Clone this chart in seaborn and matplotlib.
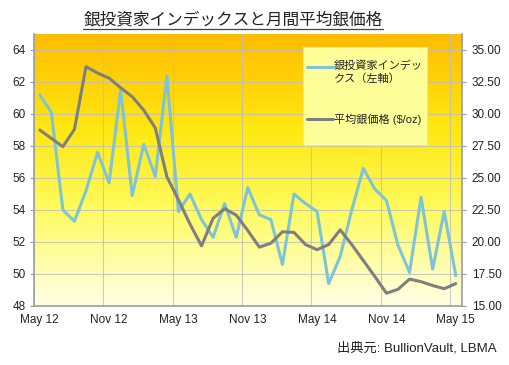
import numpy as np
import pandas as pd
import matplotlib
matplotlib.use("Agg")
import matplotlib.pyplot as plt
from matplotlib.colors import LinearSegmentedColormap
from matplotlib.lines import Line2D
from matplotlib.patches import Rectangle
import seaborn as sns

# ---- data (May 2012 .. May 2015, monthly) ----
index_values = [61.2, 60.1, 54.0, 53.3, 55.2, 57.6, 55.7, 61.5, 54.9, 58.1,
                56.1, 62.4, 53.9, 55.0, 53.4, 52.3, 54.4, 52.3, 55.4, 53.7,
                53.4, 50.6, 55.0, 54.4, 53.9, 49.4, 51.1, 54.0, 56.6, 55.3,
                54.6, 51.8, 50.1, 54.8, 50.3, 53.9, 49.9]
silver_price = [28.75, 28.1, 27.45, 28.8, 33.7, 33.2, 32.8, 32.05, 31.35, 30.3,
                28.9, 25.1, 23.3, 21.4, 19.7, 21.85, 22.6, 22.1, 20.9, 19.6,
                19.9, 20.8, 20.75, 19.8, 19.4, 19.8, 20.95, 19.8, 18.55, 17.3,
                16.0, 16.3, 17.1, 16.9, 16.6, 16.35, 16.75]
tick_labels = ["May 12", "Nov 12", "May 13", "Nov 13", "May 14", "Nov 14", "May 15"]
left_ticks = [48, 50, 52, 54, 56, 58, 60, 62, 64]
right_ticks = [15.0, 17.5, 20.0, 22.5, 25.0, 27.5, 30.0, 32.5, 35.0]
label_index = "銀投資家インデッ\nクス（左軸）"
label_price = "平均銀価格 ($/oz)"
title = "銀投資家インデックスと月間平均銀価格"
source = "出典元: BullionVault, LBMA"

month = np.arange(len(index_values)) + 0.5
df = pd.DataFrame({"month": month, "index": index_values, "price": silver_price})

sns.set_theme(style="white")
plt.rcParams["font.family"] = ["Liberation Sans", "Noto Sans CJK JP", "DejaVu Sans"]

W, H = 510, 365
fig = plt.figure(figsize=(W / 100, H / 100), dpi=100)
fig.patch.set_facecolor("white")
L, R, T, B = 34, 462, 34, 306
ax = fig.add_axes([L / W, 1 - B / H, (R - L) / W, (B - T) / H])

# gradient background
cmap = LinearSegmentedColormap.from_list(
    "bg", [(0.0, "#FFFFE6"), (0.35, "#FFFB60"), (0.65, "#FFE812"), (1.0, "#FFBC00")])
grad = np.linspace(0, 1, 256).reshape(-1, 1)
ax.imshow(grad, aspect="auto", cmap=cmap, origin="lower",
          extent=[0, 1, 0, 1], transform=ax.transAxes, zorder=0)

blue = "#7EC4D6"
grey = "#7F7F7F"

sns.lineplot(data=df, x="month", y="index", ax=ax, color=blue, linewidth=2.2,
             legend=False, zorder=3)
ax.set_xlim(0, 37.04)
ax.set_ylim(48, 65)
ax.set_yticks(left_ticks)
ax.set_yticklabels([str(v) for v in left_ticks])
ax.set_xticks([m + 0.5 for m in range(0, 37, 6)])
ax.set_xticklabels(tick_labels)
ax.set_xticks(list(range(0, 37, 6)), minor=True)
ax.set_xlabel("")
ax.set_ylabel("")
ax.set_axisbelow("line")
ax.grid(True, axis="y", which="major", color="#BDBDBD", linewidth=0.8, alpha=0.8)
ax.grid(True, axis="x", which="minor", color="#BDBDBD", linewidth=0.8, alpha=0.8)
ax.grid(False, axis="x", which="major")

ax2 = ax.twinx()
sns.lineplot(data=df, x="month", y="price", ax=ax2, color=grey, linewidth=2.2,
             legend=False, zorder=3)
ax2.set_ylim(15, 36.25)
ax2.set_yticks(right_ticks)
ax2.set_yticklabels([f"{v:.2f}" for v in right_ticks])
ax2.set_ylabel("")
ax2.grid(False)

for a in (ax, ax2):
    for s in a.spines.values():
        s.set_visible(False)
    a.tick_params(colors="#999999", labelcolor="#222222", labelsize=8.5,
                  length=3, width=0.8, direction="out")
ax.spines["left"].set_visible(True)
ax.spines["left"].set_color("#A0A0A0")
ax.spines["bottom"].set_visible(True)
ax.spines["bottom"].set_color("#A0A0A0")
ax2.spines["right"].set_visible(True)
ax2.spines["right"].set_color("#A0A0A0")
ax.tick_params(axis="x", which="major", length=0, pad=6)
ax.tick_params(axis="x", which="minor", length=3, width=0.8, color="#999999",
               direction="out")
ax.tick_params(axis="y", pad=3)
ax2.tick_params(axis="y", pad=4)

# legend box (drawn in figure pixel space)
def fx(px):
    return px / W

def fy(py):
    return 1 - py / H

fig.add_artist(Rectangle((fx(303), fy(145)), fx(427) - fx(303), fy(47) - fy(145),
                         transform=fig.transFigure, facecolor="#FFFF99",
                         edgecolor="#E6E6B0", linewidth=0.8, zorder=20))
fig.add_artist(Line2D([fx(307), fx(333)], [fy(67), fy(67)], color=blue,
                      linewidth=2.2, transform=fig.transFigure, zorder=21))
fig.add_artist(Line2D([fx(307), fx(333)], [fy(119), fy(119)], color=grey,
                      linewidth=2.2, transform=fig.transFigure, zorder=21))
fig.text(fx(334), fy(60), label_index, ha="left", va="top", fontsize=8,
         color="#222222", linespacing=1.35, zorder=22)
fig.text(fx(334), fy(119), label_price, ha="left", va="center", fontsize=8,
         color="#222222", zorder=22)

t = fig.text(233 / W, 1 - 20 / H, title, ha="center", va="center",
             fontsize=12, color="#222222")
fig.canvas.draw()
bb = t.get_window_extent()
fig.add_artist(Line2D([bb.x0 / W, bb.x1 / W], [(bb.y0 - 1) / H, (bb.y0 - 1) / H],
                      color="#444444", linewidth=0.9, transform=fig.transFigure))

fig.text(497 / W, 1 - 348 / H, source, ha="right", va="center",
         fontsize=9.5, color="#222222")

fig.savefig("out.png", dpi=100)
